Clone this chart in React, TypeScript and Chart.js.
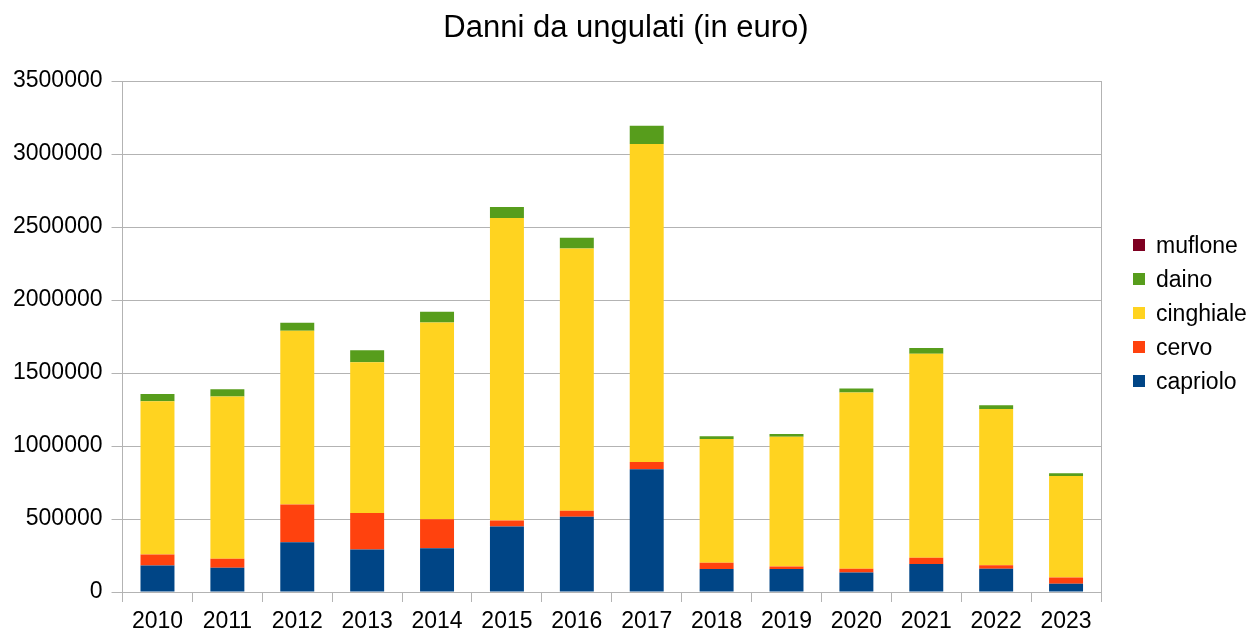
import React, { useEffect, useRef } from 'react';
import { Chart, registerables } from 'chart.js';

Chart.register(...registerables);

const years = ['2010', '2011', '2012', '2013', '2014', '2015', '2016', '2017', '2018', '2019', '2020', '2021', '2022', '2023'];
const capriolo = [182000, 166000, 341000, 291000, 300000, 448000, 516000, 841000, 157000, 157000, 134000, 191000, 159000, 57000];
const cervo = [75000, 61000, 259000, 250000, 198000, 41000, 41000, 50000, 43000, 18000, 25000, 43000, 25000, 43000];
const cinghiale = [1050000, 1112000, 1190000, 1032000, 1348000, 2073000, 1795000, 2177000, 848000, 889000, 1207000, 1398000, 1070000, 695000];
const daino = [50000, 50000, 55000, 82000, 73000, 75000, 75000, 125000, 18000, 18000, 27000, 40000, 25000, 18000];
const muflone = [0, 0, 0, 0, 0, 0, 0, 0, 0, 0, 0, 0, 0, 0];

const seriesNames = ['capriolo', 'cervo', 'cinghiale', 'daino', 'muflone'];
const seriesValues = [capriolo, cervo, cinghiale, daino, muflone];
const seriesColors = ['#004586', '#ff420e', '#ffd320', '#579d1c', '#7e0021'];
const yMin = 0;
const yMax = 3500000;
const yStep = 500000;
const titleText = 'Danni da ungulati (in euro)';

const FONT = "'Liberation Sans', Arial, sans-serif";
const GRID = '#b3b3b3';

const titleLegendPlugin = {
  id: 'titleLegend',
  afterDraw(chart: any) {
    const ctx = chart.ctx;
    ctx.save();
    ctx.fillStyle = '#000';
    ctx.font = `31px ${FONT}`;
    ctx.textAlign = 'center';
    ctx.textBaseline = 'alphabetic';
    ctx.fillText(titleText, chart.width / 2, 37);

    const ds = chart.data.datasets;
    ctx.font = `23px ${FONT}`;
    ctx.textAlign = 'left';
    let row = 0;
    for (let k = ds.length - 1; k >= 0; k--, row++) {
      const cy = 245 + row * 34;
      ctx.fillStyle = ds[k].backgroundColor;
      ctx.fillRect(1133, cy - 6, 12, 12);
      ctx.fillStyle = '#000';
      ctx.fillText(ds[k].label, 1156, cy + 8);
    }
    ctx.restore();
  },
};

export default function App() {
  const canvasRef = useRef<HTMLCanvasElement | null>(null);

  useEffect(() => {
    if (!canvasRef.current) return;
    const chart = new Chart(canvasRef.current, {
      type: 'bar',
      data: {
        labels: years,
        datasets: seriesNames.map((name, i) => ({
          label: name,
          data: seriesValues[i],
          backgroundColor: seriesColors[i],
          borderWidth: 0,
          barPercentage: 0.486,
          categoryPercentage: 1,
        })),
      },
      options: {
        animation: false,
        responsive: false,
        layout: { padding: { left: 4, right: 151, top: 81, bottom: -6 } },
        plugins: {
          legend: { display: false },
          title: { display: false },
          tooltip: { enabled: false },
        },
        scales: {
          x: {
            stacked: true,
            grid: {
              display: true,
              drawOnChartArea: true,
              drawTicks: true,
              tickLength: 10,
              tickColor: GRID,
              color: (c: any) => (c.type === 'scale' ? GRID : 'rgba(0,0,0,0)'),
              lineWidth: 1,
            },
            border: { display: true, color: GRID },
            ticks: {
              color: '#000',
              padding: 8,
              font: { family: FONT, size: 23, lineHeight: 1 },
              maxRotation: 0,
              autoSkip: false,
            },
          },
          y: {
            stacked: true,
            min: yMin,
            max: yMax,
            grid: {
              color: GRID,
              tickColor: GRID,
              tickLength: 11,
              drawTicks: true,
            },
            border: { display: true, color: GRID },
            ticks: {
              stepSize: yStep,
              color: '#000',
              padding: 9,
              font: { family: FONT, size: 23 },
              callback: (v: any) => String(v),
            },
          },
        },
      },
      plugins: [titleLegendPlugin],
    });
    return () => chart.destroy();
  }, []);

  return (
    <div style={{ position: 'fixed', left: 0, top: 0, width: 1252, height: 635, background: '#fff' }}>
      <canvas ref={canvasRef} width={1252} height={635} style={{ display: 'block' }} />
    </div>
  );
}
